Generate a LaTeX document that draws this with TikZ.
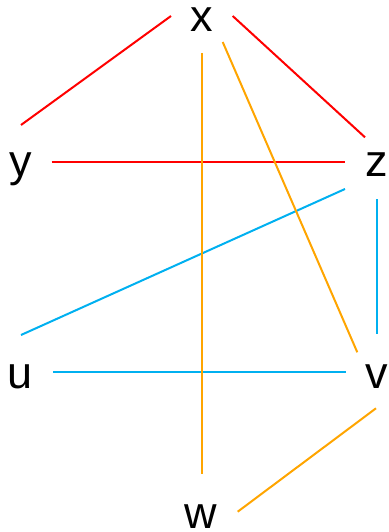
\documentclass[tikz,border=0pt]{standalone}
\usepackage{fontspec}
\setmainfont{Liberation Sans}
\usetikzlibrary{positioning}
\definecolor{edgeRed}{HTML}{FF0000}
\definecolor{edgeCyan}{HTML}{00B0F0}
\definecolor{edgeOrange}{HTML}{FFA500}
\tikzset{
  vtx/.style={inner sep=0pt, text height=23.4pt, text depth=0pt, font=\fontsize{45}{54}\selectfont},
  edgeR/.style={edgeRed, line width=2pt},
  edgeC/.style={edgeCyan, line width=2pt},
  edgeO/.style={edgeOrange, line width=2pt},
}
\begin{document}
\begin{tikzpicture}[x=1pt, y=-1pt]
  \useasboundingbox (0,0) rectangle (388,532);
  % vertices
  \node[vtx] (x) at (201.7,20) {x};
  \node[vtx] (y) at (21,165) {y};
  \node[vtx] (z) at (376.5,165) {z};
  \node[vtx] (u) at (20.5,376.5) {u};
  \node[vtx] (v) at (376.5,377) {v};
  \node[vtx] (w) at (201,516.5) {w};
  % red edges
  \draw[edgeR] ([shift={(-30.7,-4)}]x.center) -- ([shift={(0,-40)}]y.center);
  \draw[edgeR] ([shift={(31,-4)}]x.center) -- ([shift={(-11.5,-27.7)}]z.center);
  \draw[edgeR] ([shift={(30.7,-2.7)}]y.center) -- ([shift={(-31.5,-2.7)}]z.center);
  % cyan edges
  \draw[edgeC] ([shift={(-31.5,24)}]z.center) -- ([shift={(0.5,-41.5)}]u.center);
  \draw[edgeC] ([shift={(0,34)}]z.center) -- ([shift={(0,-42.7)}]v.center);
  \draw[edgeC] ([shift={(32.5,-4.2)}]u.center) -- ([shift={(-30.8,-4.7)}]v.center);
  % orange edges
  \draw[edgeO] ([shift={(0,33)}]x.center) -- ([shift={(0.7,-42.2)}]w.center);
  \draw[edgeO] ([shift={(21,22)}]x.center) -- ([shift={(-19.2,-24.7)}]v.center);
  \draw[edgeO] ([shift={(-0.5,31.3)}]v.center) -- ([shift={(36.7,-4.8)}]w.center);
\end{tikzpicture}
\end{document}
